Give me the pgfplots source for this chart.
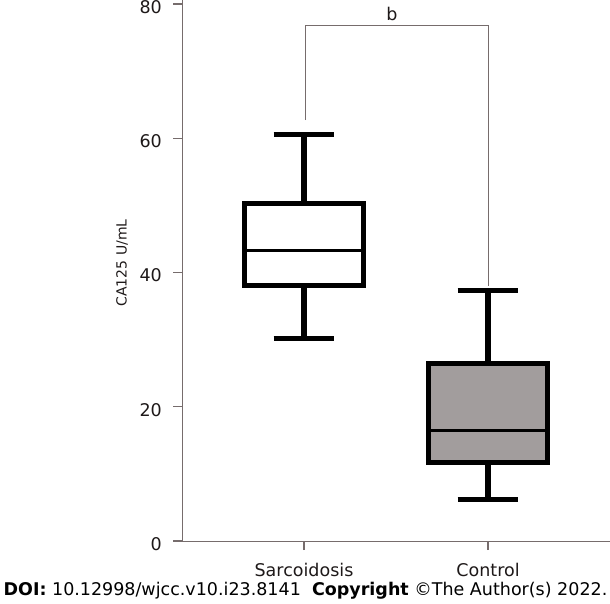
\documentclass[border=0pt]{standalone}
\usepackage{pgfplots}
\pgfplotsset{compat=1.18}
\usepackage{fontspec}
\setmainfont{DejaVu Sans}
\definecolor{axgray}{RGB}{118,108,108}
\definecolor{boxgray}{RGB}{162,157,157}
\definecolor{txt}{RGB}{30,25,25}
\begin{document}
\begin{tikzpicture}
\useasboundingbox (0,0) rectangle (610pt,603pt);
\begin{axis}[
  at={(182pt,62pt)}, anchor=south west,
  scale only axis, width=428pt, height=541pt,
  xmin=0.337, xmax=2.663, ymin=0, ymax=80.6,
  axis lines=left, axis line style={-, draw=axgray, line width=1pt},
  xtick={1,2}, xticklabels={Sarcoidosis,Control},
  ytick={0,20,40,60,80},
  yticklabel={\ifnum\ticknum=4 \raisebox{-4.5pt}{\pgfmathprintnumber{\tick}}\else\pgfmathprintnumber{\tick}\fi},
  tick align=outside, major tick length=9pt,
  xtick style={draw=axgray, line width=1.1pt},
  ytick style={draw=axgray, line width=1.1pt},
  /pgf/number format/assume math mode=true,
  ticklabel style={font=\fontsize{17.5}{20}\selectfont, text=txt},
  yticklabel shift=11pt,
  xticklabel shift=12.5pt,
  yticklabel style={anchor=east, inner sep=0pt, yshift=-3pt},
  xticklabel style={anchor=north, inner sep=0pt},
  every axis y label/.style={at={(axis description cs:-0.126,0.514)}, rotate=90, anchor=south, inner sep=0pt, font=\fontsize{14}{16}\selectfont, text=txt},
  ylabel={CA125 U/mL},
  clip=false,
]
% Sarcoidosis: whiskers 30.1 / 60.5, quartiles 38.0 / 50.3, median 43.3
\addplot[black, line width=6pt, no marks] coordinates {(1,50.3) (1,60.5)};
\addplot[black, line width=6pt, no marks] coordinates {(1,30.1) (1,38.0)};
\addplot[black, line width=5pt, no marks] coordinates {(0.835,60.5) (1.165,60.5)};
\addplot[black, line width=5pt, no marks] coordinates {(0.835,30.1) (1.165,30.1)};
\addplot[draw=black, fill=white, line width=5pt, no marks] coordinates {(0.6765,38.0) (1.3235,38.0) (1.3235,50.3) (0.6765,50.3)} -- cycle;
\addplot[black, line width=3.5pt, no marks] coordinates {(0.6765,43.3) (1.3235,43.3)};
% Control: whiskers 6.2 / 37.3, quartiles 11.7 / 26.4, median 16.5
\addplot[black, line width=6pt, no marks] coordinates {(2,26.4) (2,37.3)};
\addplot[black, line width=6pt, no marks] coordinates {(2,6.2) (2,11.7)};
\addplot[black, line width=5pt, no marks] coordinates {(1.835,37.3) (2.165,37.3)};
\addplot[black, line width=5pt, no marks] coordinates {(1.835,6.2) (2.165,6.2)};
\addplot[draw=black, fill=boxgray, line width=5pt, no marks] coordinates {(1.6765,11.7) (2.3235,11.7) (2.3235,26.4) (1.6765,26.4)} -- cycle;
\addplot[black, line width=3.5pt, no marks] coordinates {(1.6765,16.5) (2.3235,16.5)};
% significance bracket
\addplot[axgray, line width=1pt, no marks] coordinates {(1.009,62.7) (1.009,76.8) (2,76.8) (2,38)};
\node[font=\fontsize{17.5}{20}\selectfont, text=txt, anchor=base] at (axis cs:1.478,77.5) {b};
\end{axis}
\node[anchor=base, font=\fontsize{17.5}{20}\selectfont, text=black] at (305.5pt,8pt) {\textbf{DOI:} 10.12998/wjcc.v10.i23.8141\ \ \textbf{Copyright} ©The Author(s) 2022.};
\end{tikzpicture}
\end{document}
